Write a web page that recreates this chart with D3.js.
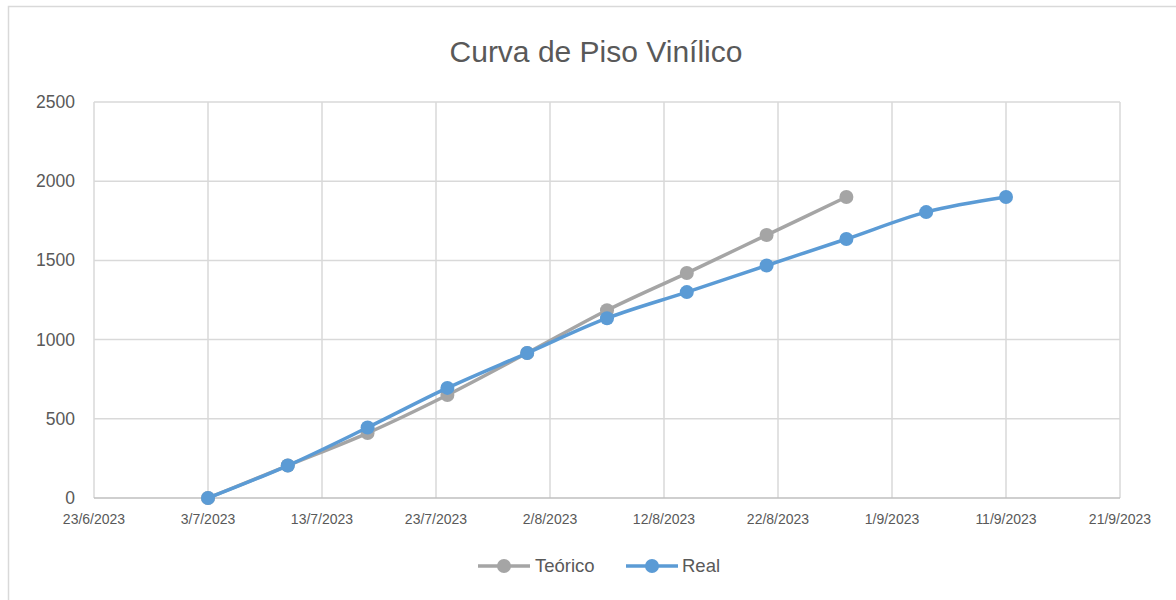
<!DOCTYPE html>
<html>
<head>
<meta charset="utf-8">
<script src="https://cdn.jsdelivr.net/npm/d3@7"></script>
<style>
    body { margin: 0; background: #fff; }
    text { font-family: "Liberation Sans", Arial, sans-serif; fill: #595959; }
</style>
</head>
<body>
<div id="chart"></div>
<script>
    var width = 1176,
        height = 600;

    var parse = d3.timeParse('%d/%m/%Y');

    // data
    var teoricoDates = ['3/7/2023', '10/7/2023', '17/7/2023', '24/7/2023', '31/7/2023', '7/8/2023', '14/8/2023', '21/8/2023', '28/8/2023'];
    var teoricoValues = [0, 205, 410, 650, 915, 1185, 1420, 1660, 1900];

    var realDates = ['3/7/2023', '10/7/2023', '17/7/2023', '24/7/2023', '31/7/2023', '7/8/2023', '14/8/2023', '21/8/2023', '28/8/2023', '4/9/2023', '11/9/2023'];
    var realValues = [0, 205, 445, 695, 915, 1135, 1300, 1468, 1635, 1805, 1900];

    var xTicks = ['23/6/2023', '3/7/2023', '13/7/2023', '23/7/2023', '2/8/2023', '12/8/2023', '22/8/2023', '1/9/2023', '11/9/2023', '21/9/2023'];
    var yTicks = [0, 500, 1000, 1500, 2000, 2500];

    var series = [
        {name: 'Teórico', color: '#A5A5A5', dates: teoricoDates, values: teoricoValues},
        {name: 'Real', color: '#5B9BD5', dates: realDates, values: realValues}
    ];

    var svg = d3.select('#chart')
        .append('svg')
        .attr('width', width)
        .attr('height', height);

    // chart area border
    svg.append('rect')
        .attr('x', 8.5)
        .attr('y', 6.5)
        .attr('width', width + 20)
        .attr('height', height + 20)
        .attr('fill', 'none')
        .attr('stroke', '#D9D9D9')
        .attr('stroke-width', 1.5);

    var plotLeft = 94, plotRight = 1120, plotTop = 102, plotBottom = 498;

    var x = d3.scaleTime()
        .domain([parse(xTicks[0]), parse(xTicks[xTicks.length - 1])])
        .range([plotLeft, plotRight]);

    var y = d3.scaleLinear()
        .domain([0, 2500])
        .range([plotBottom, plotTop]);

    // gridlines
    svg.append('g')
        .selectAll('line')
        .data(yTicks.slice(1))
        .enter().append('line')
        .attr('x1', plotLeft).attr('x2', plotRight)
        .attr('y1', function(d){ return y(d); })
        .attr('y2', function(d){ return y(d); })
        .attr('stroke', '#D9D9D9')
        .attr('stroke-width', 1.5);

    svg.append('g')
        .selectAll('line')
        .data(xTicks)
        .enter().append('line')
        .attr('x1', function(d){ return x(parse(d)); })
        .attr('x2', function(d){ return x(parse(d)); })
        .attr('y1', plotTop).attr('y2', plotBottom)
        .attr('stroke', '#D9D9D9')
        .attr('stroke-width', 1.5);

    // bottom axis line
    svg.append('line')
        .attr('x1', plotLeft).attr('x2', plotRight)
        .attr('y1', plotBottom).attr('y2', plotBottom)
        .attr('stroke', '#BFBFBF')
        .attr('stroke-width', 1.5);

    // y labels
    svg.append('g')
        .selectAll('text')
        .data(yTicks)
        .enter().append('text')
        .attr('x', 75)
        .attr('y', function(d){ return y(d) + 6; })
        .attr('text-anchor', 'end')
        .style('font-size', '17.5px')
        .text(function(d){ return d; });

    // x labels
    svg.append('g')
        .selectAll('text')
        .data(xTicks)
        .enter().append('text')
        .attr('x', function(d){ return x(parse(d)); })
        .attr('y', 524)
        .attr('text-anchor', 'middle')
        .style('font-size', '14px')
        .text(function(d){ return d; });

    // title
    svg.append('text')
        .attr('x', 596)
        .attr('y', 62)
        .attr('text-anchor', 'middle')
        .style('font-size', '30px')
        .text('Curva de Piso Vinílico');

    var line = d3.line()
        .x(function(d){ return x(d.date); })
        .y(function(d){ return y(d.value); })
        .curve(d3.curveCatmullRom.alpha(0.5));

    series.forEach(function(s){
        var pts = s.dates.map(function(d, i){ return {date: parse(d), value: s.values[i]}; });

        svg.append('path')
            .datum(pts)
            .attr('d', line)
            .attr('fill', 'none')
            .attr('stroke', s.color)
            .attr('stroke-width', 3.5)
            .attr('stroke-linejoin', 'round');

        svg.append('g')
            .selectAll('circle')
            .data(pts)
            .enter().append('circle')
            .attr('cx', function(d){ return x(d.date); })
            .attr('cy', function(d){ return y(d.value); })
            .attr('r', 7)
            .attr('fill', s.color);
    });

    // legend
    var legendPos = [{lx: 478, tx: 535}, {lx: 626, tx: 682}];
    series.forEach(function(s, i){
        var g = svg.append('g');
        g.append('line')
            .attr('x1', legendPos[i].lx).attr('x2', legendPos[i].lx + 52)
            .attr('y1', 566).attr('y2', 566)
            .attr('stroke', s.color)
            .attr('stroke-width', 3.5);
        g.append('circle')
            .attr('cx', legendPos[i].lx + 26)
            .attr('cy', 566)
            .attr('r', 7)
            .attr('fill', s.color);
        g.append('text')
            .attr('x', legendPos[i].tx)
            .attr('y', 572)
            .style('font-size', '18.5px')
            .text(s.name);
    });
</script>
</body>
</html>
